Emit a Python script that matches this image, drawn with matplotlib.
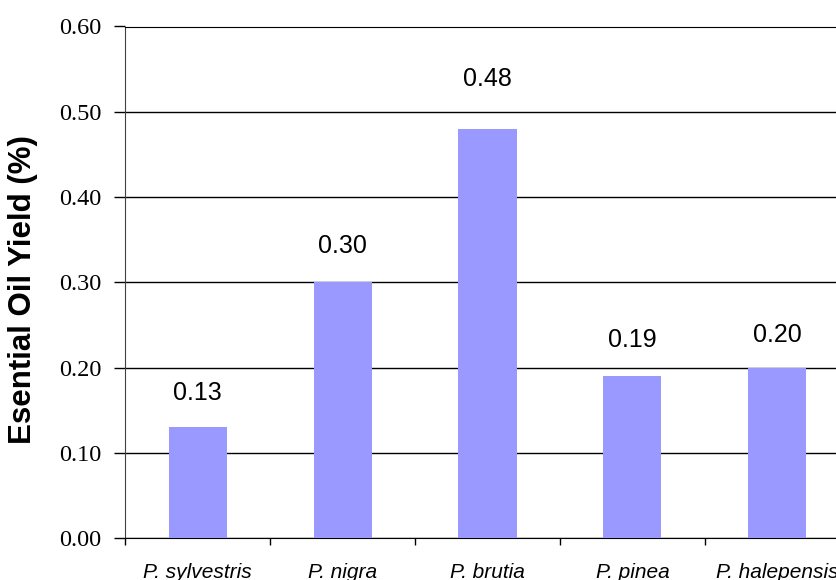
import matplotlib
matplotlib.use('Agg')
import matplotlib.pyplot as plt
from matplotlib.ticker import MultipleLocator, FixedLocator, FuncFormatter

# ── Данные ────────────────────────────────────────────────────────────────────
species = ['P. sylvestris', 'P. nigra', 'P. brutia', 'P. pinea', 'P. halepensis']
oil_yield = [0.13, 0.30, 0.48, 0.19, 0.20]
value_labels = ['0.13', '0.30', '0.48', '0.19', '0.20']

BAR_COLOR = '#9999FF'

fig = plt.figure(figsize=(8.37, 5.8), dpi=100)
# оси выходят за правый край картинки, как в оригинале
ax = fig.add_axes([125 / 837, 42 / 580, 725 / 837, 511.5 / 580])

x = list(range(len(species)))
ax.bar(x, oil_yield, width=0.4, color=BAR_COLOR, zorder=3)

# подписи значений (в оригинале расставлены вручную, отступы чуть разные)
nudge = [34, 36, 50, 36, 32]
for xi, yi, lab, dy in zip(x, oil_yield, value_labels, nudge):
    ax.annotate(lab, (xi, yi), xytext=(0, dy * 0.72), textcoords='offset points',
                ha='center', va='center', fontsize=18,
                family='Liberation Sans', zorder=4)

ax.set_xlim(-0.5, len(species) - 0.5)
ax.set_ylim(0, 0.6)

ax.yaxis.set_major_locator(MultipleLocator(0.1))
ax.yaxis.set_major_formatter(FuncFormatter(lambda v, _: f'{v:.2f}'))
ax.tick_params(axis='y', length=8, width=1, pad=9, labelsize=17.5)
for t in ax.get_yticklabels():
    t.set_family('Liberation Serif')

ax.grid(axis='y', color='black', lw=1, zorder=1)

# границы категорий — тики, названия — в центрах
ax.xaxis.set_major_locator(FixedLocator([i - 0.5 for i in range(len(species) + 1)]))
ax.xaxis.set_major_formatter(FuncFormatter(lambda v, _: ''))
ax.xaxis.set_minor_locator(FixedLocator(x))
ax.set_xticklabels(species, minor=True)
ax.tick_params(axis='x', which='major', length=5, width=1)
ax.tick_params(axis='x', which='minor', length=0, pad=18, labelsize=15)
for t in ax.get_xticklabels(minor=True):
    t.set_family('Liberation Sans')
    t.set_style('italic')

ax.set_ylabel('Esential Oil Yield (%)', fontsize=22.5, fontweight='bold',
              family='Liberation Sans')
ax.yaxis.set_label_coords(-0.12, 0.485)

ax.spines['right'].set_visible(False)
ax.spines['top'].set_color('black')
ax.spines['left'].set_color('#404040')
ax.spines['bottom'].set_color('black')

plt.savefig('out.png', dpi=100)
